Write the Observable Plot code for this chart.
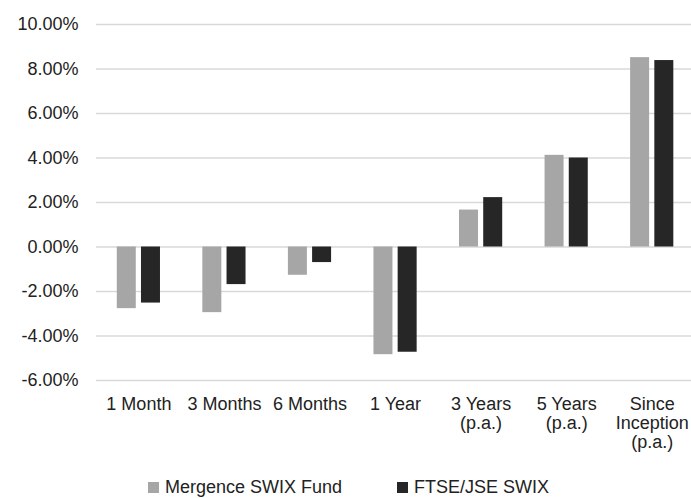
<!DOCTYPE html>
<html>
<head>
<meta charset="utf-8">
<script src="https://cdn.jsdelivr.net/npm/d3@7"></script>
<script src="https://cdn.jsdelivr.net/npm/@observablehq/plot@0.6"></script>
<style>
  html, body { margin: 0; padding: 0; background: #fff; }
  body { width: 691px; height: 498px; overflow: hidden; font-family: "Liberation Sans", Arial, sans-serif; color: #222; }
  #legend { position: relative; height: 38px; font-size: 18px; }
  .item { position: absolute; top: 17px; display: flex; align-items: center; white-space: nowrap; }
  .sw { width: 11px; height: 11px; margin-right: 6px; display: inline-block; }
</style>
</head>
<body>
<div id="chart"></div>
<div id="legend"></div>
<script>
const categories = ["1 Month", "3 Months", "6 Months", "1 Year", "3 Years (p.a.)", "5 Years (p.a.)", "Since Inception (p.a.)"];
const tickLabels = ["1 Month", "3 Months", "6 Months", "1 Year", "3 Years\n(p.a.)", "5 Years\n(p.a.)", "Since\nInception\n(p.a.)"];
const seriesNames = ["Mergence SWIX Fund", "FTSE/JSE SWIX"];
const fundValues = [-2.77, -2.95, -1.27, -4.84, 1.66, 4.12, 8.51];
const indexValues = [-2.52, -1.69, -0.70, -4.73, 2.22, 4.00, 8.38];
const yTicks = [-6, -4, -2, 0, 2, 4, 6, 8, 10];
const colors = ["#a6a6a6", "#262626"];

const fundData = categories.map((c, i) => ({category: c, value: fundValues[i]}));
const indexData = categories.map((c, i) => ({category: c, value: indexValues[i]}));
const labelOf = new Map(categories.map((c, i) => [c, tickLabels[i]]));

const chart = Plot.plot({
  width: 691,
  height: 460,
  marginLeft: 96,
  marginRight: 0,
  marginTop: 24,
  marginBottom: 80,
  style: {fontFamily: "'Liberation Sans', Arial, sans-serif", fontSize: "18px", color: "#222", background: "#fff"},
  x: {type: "band", domain: categories, range: [95.6, 694.5], paddingInner: 0.778, paddingOuter: 0.389, round: false, label: null},
  y: {domain: [-6, 10], label: null},
  marks: [
    Plot.ruleY(yTicks, {stroke: "#d9d9d9", strokeWidth: 1.5}),
    Plot.barY(fundData, {x: "category", y: "value", fill: colors[0], dx: -12.1, inset: 0}),
    Plot.barY(indexData, {x: "category", y: "value", fill: colors[1], dx: 12.1, inset: 0}),
    Plot.axisY({ticks: yTicks, tickSize: 0, tickPadding: 18, tickFormat: d => d.toFixed(2) + "%", fontSize: 18, label: null}),
    Plot.axisX({tickSize: 0, tickPadding: 16, tickFormat: d => labelOf.get(d), fontSize: 18, lineHeight: 1.06, label: null})
  ]
});
document.getElementById("chart").appendChild(chart);

const legend = document.getElementById("legend");
const lefts = [148, 397];
seriesNames.forEach((name, i) => {
  const item = document.createElement("div");
  item.className = "item";
  item.style.left = lefts[i] + "px";
  const sw = document.createElement("span");
  sw.className = "sw";
  sw.style.background = colors[i];
  item.appendChild(sw);
  item.appendChild(document.createTextNode(name));
  legend.appendChild(item);
});
</script>
</body>
</html>
